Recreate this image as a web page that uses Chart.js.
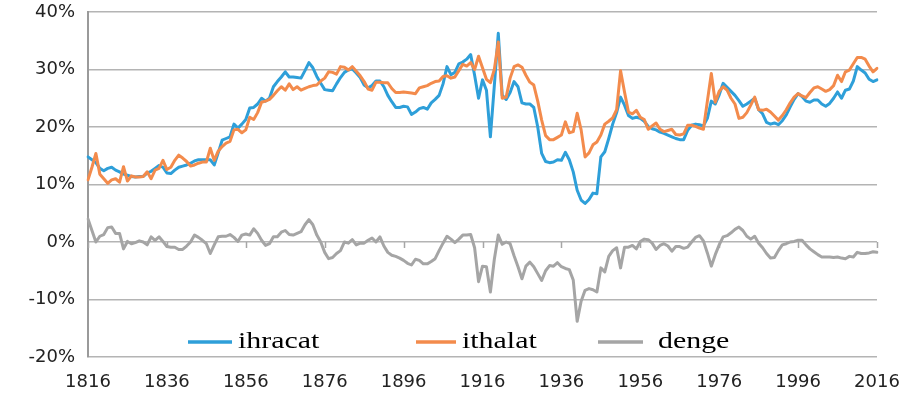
<!DOCTYPE html>
<html>
<head>
<meta charset="utf-8">
<script src="https://cdn.jsdelivr.net/npm/chart.js@4.4.0/dist/chart.umd.min.js"></script>
<style>
  html, body { margin: 0; padding: 0; background: #fff; }
</style>
</head>
<body>
<canvas id="tradeChart" width="907" height="401"></canvas>
<script>
// Yillik seriler 1816-2016 (%)
const firstYear = 1816;
const lastYear = 2016;
const labelStep = 20;

const ihracat = [
    14.8, 14.3, 13.8, 12.8, 12.4, 12.8, 13.0, 12.5, 12.2, 11.8,
    11.6, 11.4, 11.3, 11.4, 11.4, 12.0, 12.3, 12.8, 13.3, 13.0,
    12.0, 11.9, 12.5, 13.0, 13.2, 13.4, 13.7, 14.1, 14.3, 14.3,
    14.3, 14.3, 13.4, 15.5, 17.7, 18.0, 18.3, 20.5, 19.8, 20.5,
    21.3, 23.3, 23.4, 24.0, 25.0, 24.5, 25.0, 27.0, 27.9, 28.7,
    29.6, 28.7, 28.7, 28.6, 28.5, 29.8, 31.2, 30.3, 28.8, 27.6,
    26.5, 26.4, 26.3, 27.5, 28.6, 29.5, 29.9, 30.1, 29.4, 28.6,
    27.3, 26.8, 27.2, 28.0, 28.0, 27.0, 25.5, 24.4, 23.4, 23.4,
    23.6, 23.5, 22.2, 22.6, 23.2, 23.4, 23.1, 24.2, 24.8, 25.5,
    27.5, 30.5, 29.1, 29.5, 31.0, 31.3, 31.8, 32.6, 29.0, 25.0,
    28.2, 26.4, 18.3, 27.2, 36.3, 25.5, 24.8, 26.0, 27.9, 27.0,
    24.2, 24.0, 24.0, 23.4, 20.0, 15.4, 14.0, 13.8, 13.9, 14.3,
    14.2, 15.6, 14.3, 12.2, 9.0, 7.3, 6.7, 7.4, 8.5, 8.4,
    14.8, 15.7, 18.0, 20.5, 22.5, 25.2, 23.8, 22.0, 21.5, 21.7,
    21.5, 21.0, 20.1, 19.7, 19.5, 19.1, 18.9, 18.6, 18.3, 18.0,
    17.8, 17.8, 19.4, 20.3, 20.5, 20.4, 20.2, 21.5, 24.5, 24.0,
    25.6, 27.6, 26.9, 26.2, 25.5, 24.6, 23.6, 24.0, 24.5, 25.0,
    23.0, 22.3, 20.8, 20.5, 20.7, 20.4, 21.1, 22.1, 23.5, 24.8,
    25.8, 25.3, 24.5, 24.3, 24.7, 24.7, 24.0, 23.6, 24.1, 25.0,
    26.1, 25.0, 26.4, 26.6, 28.0, 30.5, 29.9, 29.4, 28.3, 27.9,
    28.2
];

const ithalat = [
    10.8, 13.0, 15.4, 11.8, 11.0, 10.2, 10.8, 11.0, 10.4, 13.1,
    10.6, 11.5, 11.3, 11.3, 11.4, 12.2, 11.0, 12.5, 12.8, 14.2,
    12.6, 13.0, 14.2, 15.1, 14.6, 14.0, 13.2, 13.4, 13.7, 13.9,
    13.9, 16.3, 14.2, 15.8, 16.6, 17.2, 17.5, 19.5, 19.6, 19.0,
    19.5, 21.7, 21.3, 22.5, 24.3, 24.5, 24.8, 25.5, 26.3, 27.0,
    26.4, 27.5, 26.5, 27.0, 26.4, 26.7, 27.0, 27.2, 27.3, 28.0,
    28.5, 29.6, 29.5, 29.2, 30.5, 30.4, 29.9, 30.5, 29.7, 28.9,
    27.9, 26.6, 26.4, 27.8, 27.8, 27.7, 27.7, 26.7, 26.0, 26.0,
    26.1, 26.0, 25.9, 25.8, 26.8, 27.0, 27.2, 27.6, 27.9, 28.0,
    28.8, 28.9, 28.5, 28.7, 29.8, 30.9, 30.6, 31.2, 30.0, 32.3,
    30.3, 28.3, 27.7, 30.0, 34.8, 25.0, 25.2, 28.5, 30.5, 30.8,
    30.4, 29.0, 27.8, 27.3, 24.5, 21.2, 18.5, 17.8, 17.8, 18.2,
    18.6, 20.9, 19.0, 19.2, 22.4, 19.5, 14.8, 15.5, 16.9, 17.4,
    18.6, 20.5, 21.0, 21.6, 23.0, 29.8, 26.1, 22.6, 22.3, 22.9,
    21.7, 21.3, 19.6, 20.2, 20.7, 19.6, 19.2, 19.4, 19.6, 18.7,
    18.6, 18.8, 20.3, 20.3, 20.1, 19.8, 19.6, 24.5, 29.3, 24.3,
    26.2, 27.0, 26.4, 25.0, 24.0, 21.5, 21.7, 22.5, 23.8, 25.2,
    23.0, 22.9, 23.1, 22.6, 21.9, 21.2, 22.0, 23.0, 24.2, 25.2,
    25.8, 25.4, 25.1, 26.0, 26.8, 27.0, 26.6, 26.2, 26.5, 27.2,
    29.0, 27.9, 29.6, 29.9, 31.0, 32.1, 32.1, 31.8, 30.6, 29.6,
    30.2
];

const denge = [
    4.0, 2.0, 0.0, 1.0, 1.3, 2.5, 2.6, 1.5, 1.5, -1.2,
    0.1, -0.3, -0.1, 0.2, 0.0, -0.5, 0.9, 0.3, 0.9, 0.1,
    -0.8, -0.9, -0.9, -1.3, -1.3, -0.7, 0.0, 1.2, 0.8, 0.3,
    -0.3, -2.0, -0.5, 0.9, 1.0, 1.0, 1.3, 0.8, 0.1, 1.2,
    1.4, 1.2, 2.3, 1.5, 0.3, -0.6, -0.3, 0.9, 0.9, 1.7,
    2.0, 1.3, 1.2, 1.5, 1.8, 3.0, 3.9, 3.0, 1.2, 0.0,
    -1.8, -2.9, -2.7, -2.0, -1.5, 0.0, -0.2, 0.4, -0.5, -0.2,
    -0.2, 0.3, 0.7, 0.0, 0.9, -0.7, -1.8, -2.3, -2.5, -2.8,
    -3.2, -3.7, -4.0, -3.0, -3.2, -3.8, -3.8, -3.4, -2.9, -1.5,
    -0.2, 1.0, 0.5, -0.1, 0.5, 1.2, 1.2, 1.3, -1.0, -6.9,
    -4.2, -4.3, -8.7, -3.0, 1.2, -0.4, 0.0, -0.3, -2.4, -4.3,
    -6.4, -4.2, -3.5, -4.3, -5.5, -6.7, -5.0, -4.1, -4.2, -3.6,
    -4.3, -4.6, -4.8, -6.6, -13.8, -10.3, -8.4, -8.1, -8.3, -8.7,
    -4.5, -5.2, -2.5, -1.5, -1.0, -4.5, -0.9, -0.9, -0.6, -1.2,
    0.1, 0.5, 0.4, -0.2, -1.3, -0.6, -0.3, -0.7, -1.6, -0.8,
    -0.8, -1.1, -0.9, 0.0, 0.8, 1.1, 0.2, -1.9, -4.2, -2.2,
    -0.5, 0.9, 1.1, 1.6, 2.2, 2.6, 2.0, 1.0, 0.5, 1.0,
    -0.2, -1.0, -2.0, -2.8, -2.7, -1.5, -0.5, -0.3, 0.0, 0.1,
    0.3, 0.3, -0.5, -1.2, -1.7, -2.2, -2.6, -2.6, -2.6, -2.7,
    -2.6, -2.8, -2.9, -2.5, -2.6, -1.8, -2.0, -2.0, -1.9, -1.7,
    -1.8
];

const years = [];
for (let y = firstYear; y <= lastYear; y++) years.push(String(y));

// legend drawn inside the plot, like the original (text a bit stretched)
const insideLegend = {
    id: 'insideLegend',
    afterDraw(chart) {
        const ctx = chart.ctx;
        const spots = [[188, 232, 238], [416, 456, 462], [598, 643, 658]];
        const y = 342;
        ctx.save();
        ctx.font = '23px "Liberation Serif", "Times New Roman", serif';
        ctx.textBaseline = 'middle';
        ctx.fillStyle = '#000';
        chart.data.datasets.forEach(function(ds, i) {
            const s = spots[i];
            ctx.strokeStyle = ds.borderColor;
            ctx.lineWidth = 3.5;
            ctx.beginPath();
            ctx.moveTo(s[0], y);
            ctx.lineTo(s[1], y);
            ctx.stroke();
            ctx.save();
            ctx.translate(s[2], y);
            ctx.scale(1.3, 1);
            ctx.fillText(ds.label, 0, 0);
            ctx.restore();
        });
        ctx.restore();
    }
};

// small tick marks on the 0% line
const zeroTicks = {
    id: 'zeroTicks',
    beforeDatasetsDraw(chart) {
        const ctx = chart.ctx;
        const xs = chart.scales.x;
        const y0 = chart.scales.y.getPixelForValue(0);
        ctx.save();
        ctx.strokeStyle = '#a6a6a6';
        ctx.lineWidth = 1.5;
        for (let i = 0; i < years.length; i += labelStep) {
            const px = Math.round(xs.getPixelForValue(i)) + 0.5;
            ctx.beginPath();
            ctx.moveTo(px, y0);
            ctx.lineTo(px, y0 + 6);
            ctx.stroke();
        }
        ctx.restore();
    }
};

const ctx = document.getElementById('tradeChart').getContext('2d');
new Chart(ctx, {
    type: 'line',
    data: {
        labels: years,
        datasets: [{
            label: 'ihracat',
            data: ihracat,
            borderColor: '#2e9fd9',
            borderWidth: 3,
            order: 1
        }, {
            label: 'ithalat',
            data: ithalat,
            borderColor: '#f38b4c',
            borderWidth: 3,
            order: 0
        }, {
            label: 'denge',
            data: denge,
            borderColor: '#a5a5a5',
            borderWidth: 3,
            order: 2
        }]
    },
    options: {
        responsive: false,
        animation: false,
        elements: {
            point: { radius: 0 },
            line: { tension: 0, borderJoinStyle: 'round', borderCapStyle: 'round' }
        },
        layout: {
            padding: { left: 0, right: 30, top: 12, bottom: 0 }
        },
        plugins: {
            legend: { display: false },
            tooltip: { enabled: false }
        },
        scales: {
            x: {
                grid: { display: false, drawTicks: false },
                border: { display: false },
                ticks: {
                    autoSkip: false,
                    maxRotation: 0,
                    padding: 15,
                    color: '#222',
                    font: { family: '"DejaVu Sans", Arial, sans-serif', size: 18 },
                    callback: function(val, i) {
                        return i % labelStep === 0 ? years[i] : '';
                    }
                },
                afterFit: function(scale) {
                    scale.height = 44;
                    scale.paddingLeft = 0;
                    scale.paddingRight = 0;
                }
            },
            y: {
                min: -20,
                max: 40,
                grid: { color: '#b4b4b4', lineWidth: 1.5, drawTicks: false },
                border: { display: true, color: '#9a9a9a', width: 2 },
                ticks: {
                    stepSize: 10,
                    padding: 13,
                    color: '#222',
                    font: { family: '"DejaVu Sans", Arial, sans-serif', size: 18 },
                    callback: function(v) { return v + '%'; }
                },
                afterFit: function(scale) {
                    scale.width = 88;
                    scale.paddingTop = 0;
                    scale.paddingBottom = 0;
                }
            }
        }
    },
    plugins: [zeroTicks, insideLegend]
});
</script>
</body>
</html>
